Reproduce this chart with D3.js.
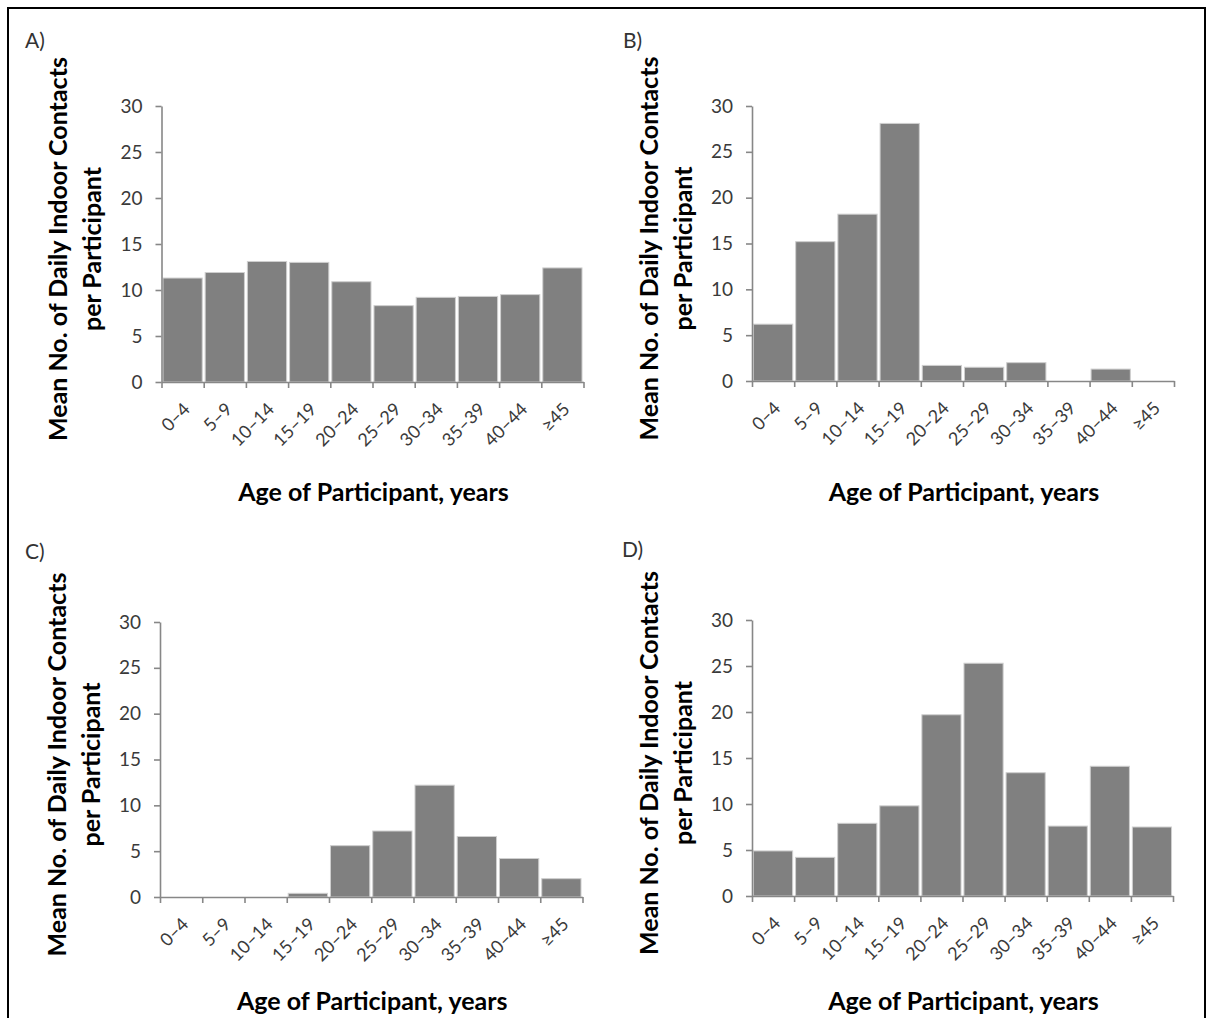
<!DOCTYPE html>
<html>
<head>
<meta charset="utf-8">
<script src="https://cdn.jsdelivr.net/npm/d3@7/dist/d3.min.js"></script>
<style>
  html, body { margin: 0; padding: 0; background: #fff; }
  svg { display: block; }
  .tick text { font-family: Lato, "Open Sans", sans-serif; }
</style>
</head>
<body>
<script>
// Age groups shared by all four panels
const ageGroups = ["0–4", "5–9", "10–14", "15–19", "20–24", "25–29", "30–34", "35–39", "40–44", "≥45"];

// Mean daily indoor contacts per participant, one series per panel
const contactsA = [11.3, 11.9, 13.1, 13.0, 10.9, 8.3, 9.2, 9.3, 9.5, 12.4];
const contactsB = [6.2, 15.2, 18.2, 28.1, 1.7, 1.5, 2.0, 0, 1.3, 0];
const contactsC = [0, 0, 0, 0.4, 5.6, 7.2, 12.2, 6.6, 4.2, 2.0];
const contactsD = [4.9, 4.2, 7.9, 9.8, 19.7, 25.3, 13.4, 7.6, 14.1, 7.5];

// Axis ticks and texts
const yTicks = [0, 5, 10, 15, 20, 25, 30];
const yDomain = [0, 30];
const panelLabels = ["A)", "B)", "C)", "D)"];
const yTitleLines = ["Mean No. of Daily Indoor Contacts", "per Participant"];
const xTitle = "Age of Participant, years";

const W = 1208, H = 1018;
const svg = d3.select("body").append("svg").attr("width", W).attr("height", H);

// Outer frame
svg.append("rect")
  .attr("x", 8).attr("y", 8).attr("width", 1197).attr("height", 1030)
  .attr("fill", "none").attr("stroke", "#000").attr("stroke-width", 2);

// Panel placement: plot-area edges in page pixels
const panels = [
  { label: panelLabels[0], data: contactsA, left: 161.5, right: 583.5, top: 106, bottom: 382, lx: 25, ly: 48, tx: 119 },
  { label: panelLabels[1], data: contactsB, left: 752,   right: 1174,  top: 106, bottom: 381, lx: 623, ly: 48, tx: 120 },
  { label: panelLabels[2], data: contactsC, left: 160,   right: 582.5, top: 622, bottom: 897, lx: 25, ly: 559, tx: 113 },
  { label: panelLabels[3], data: contactsD, left: 752,   right: 1173,  top: 620, bottom: 896, lx: 622, ly: 557, tx: 114 }
];

const fontFamily = 'Lato, "Open Sans", sans-serif';
const axisColor = "#878787";
const labelColor = "#3a3a3a";

panels.forEach(p => {
  const g = svg.append("g");

  const y = d3.scaleLinear().domain(yDomain).range([p.bottom, p.top]);
  const xBand = d3.scaleBand().domain(ageGroups).range([p.left, p.right])
    .paddingInner(0.07).paddingOuter(0.035);
  const xEdge = d3.scaleLinear().domain([0, ageGroups.length]).range([p.left, p.right]);

  // Bars
  g.append("g").selectAll("rect")
    .data(p.data)
    .join("rect")
    .attr("x", (d, i) => xBand(ageGroups[i]))
    .attr("width", xBand.bandwidth())
    .attr("y", d => y(d))
    .attr("height", d => y(0) - y(d))
    .attr("fill", "#808080")
    .attr("stroke", d => d > 0 ? "#cfcfcf" : "none")
    .attr("stroke-width", 1);

  // Y axis
  const yAxis = g.append("g")
    .attr("transform", `translate(${p.left},0)`)
    .call(d3.axisLeft(y).tickValues(yTicks).tickSize(6).tickPadding(13).tickSizeOuter(0));
  yAxis.select(".domain").attr("stroke", axisColor).attr("stroke-width", 1.6);
  yAxis.selectAll(".tick line").attr("stroke", axisColor).attr("stroke-width", 1.6);
  yAxis.selectAll(".tick text")
    .attr("fill", labelColor)
    .style("font-size", "19px");

  // X axis: tick marks on the category boundaries
  const xAxis = g.append("g")
    .attr("transform", `translate(0,${p.bottom})`)
    .call(d3.axisBottom(xEdge).tickValues(d3.range(ageGroups.length + 1)).tickFormat("").tickSize(6).tickSizeOuter(0));
  xAxis.select(".domain").attr("stroke", axisColor).attr("stroke-width", 1.6);
  xAxis.selectAll(".tick line").attr("stroke", axisColor).attr("stroke-width", 1.6);

  // Rotated category labels
  g.append("g").selectAll("text")
    .data(ageGroups)
    .join("text")
    .attr("transform", d => `translate(${xBand(d) + xBand.bandwidth() / 2 + 4},${p.bottom + 24}) rotate(-45)`)
    .attr("text-anchor", "end")
    .attr("dy", "0.35em")
    .attr("font-family", fontFamily)
    .attr("font-size", 18)
    .attr("fill", labelColor)
    .text(d => d);

  // Y title (two lines)
  const cy = (p.top + p.bottom) / 2 + 5;
  yTitleLines.forEach((line, i) => {
    g.append("text")
      .attr("transform", `translate(${p.left - 94.5 + i * 34},${cy}) rotate(-90)`)
      .attr("text-anchor", "middle")
      .attr("font-family", fontFamily)
      .attr("font-weight", "bold")
      .attr("font-size", 25)
      .attr("fill", "#000")
      .text(line);
  });

  // X title
  g.append("text")
    .attr("x", (p.left + p.right) / 2 + 1)
    .attr("y", p.bottom + p.tx)
    .attr("text-anchor", "middle")
    .attr("font-family", fontFamily)
    .attr("font-weight", "bold")
    .attr("font-size", 25)
    .attr("fill", "#000")
    .text(xTitle);

  // Panel letter
  g.append("text")
    .attr("x", p.lx)
    .attr("y", p.ly)
    .attr("font-family", fontFamily)
    .attr("font-size", 21)
    .attr("fill", "#333")
    .text(p.label);
});
</script>
</body>
</html>
